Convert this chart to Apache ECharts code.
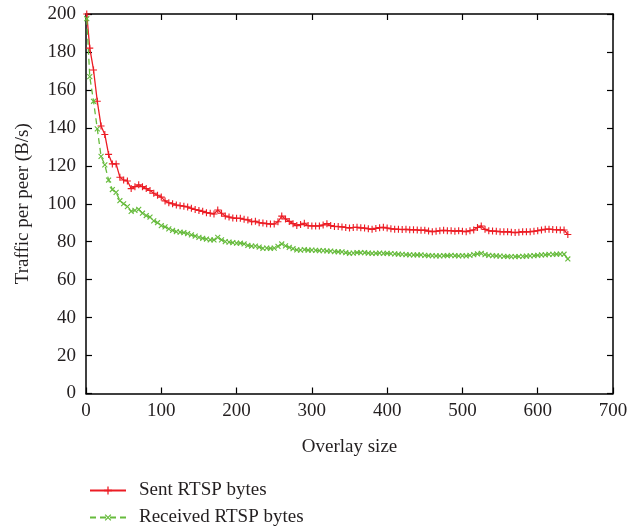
<!DOCTYPE html>
<html>
<head>
<meta charset="utf-8">
<script src="https://cdn.jsdelivr.net/npm/echarts@6/dist/echarts.min.js"></script>
<style>html,body{margin:0;padding:0;background:#fff}#c{width:644px;height:527px}</style>
</head>
<body>
<div id="c"></div>
<script>
const overlaySizes = [1,5,10,15,20,25,30,35,40,45,50,55,60,65,70,75,80,85,90,95,100,105,110,115,120,125,130,135,140,145,150,155,160,165,170,175,180,185,190,195,200,205,210,215,220,225,230,235,240,245,250,255,260,265,270,275,280,285,290,295,300,305,310,315,320,325,330,335,340,345,350,355,360,365,370,375,380,385,390,395,400,405,410,415,420,425,430,435,440,445,450,455,460,465,470,475,480,485,490,495,500,505,510,515,520,525,530,535,540,545,550,555,560,565,570,575,580,585,590,595,600,605,610,615,620,625,630,635,640];
const sentRTSP = [200,182,170.5,154,141,136.5,126,121,121,114,112.5,112,108,109,110,109,108,107,105.5,104.5,103.5,101.5,100.5,100,99.3,99,98.7,98.3,97.6,97,96.5,96,95.3,95,94.6,96.7,95,93.5,93,92.5,92.3,92.3,91.8,91.5,90.5,90.8,90,89.8,89.5,89.3,89.3,90.5,93.5,92,90.7,89.5,88.5,89,89.7,88.5,88.3,88.3,88.3,88.8,89.5,88.5,88,88,87.8,87.5,87.2,87.5,87.6,87.3,87.2,86.8,86.5,87,87.4,87.6,87.2,86.8,86.6,86.5,86.4,86.5,86.3,86.3,86.2,86,86.1,85.6,85.3,85.5,85.8,86,85.8,85.8,85.5,85.8,85.5,85.3,85.8,86.2,87.5,88.3,86.5,85.8,85.6,85.5,85.3,85.2,85.3,85,84.8,85,85.3,85.2,85.3,85.5,85.8,86.2,86.5,86.6,86.4,86.3,86.2,86.2,83.8];
const receivedRTSP = [197.5,167,154,139.5,125,120.5,112.5,107.5,106,101.6,100,98.5,96,96.5,97,95,93.8,93,91,90,88.5,87.8,86.8,86,85.3,85,84.8,84.3,83.6,83,82.3,81.8,81.4,81,80.9,82.3,81,80,79.8,79.5,79.2,79.2,78.8,78,77.7,77.7,77.2,76.5,76.6,76.5,76.6,77.5,78.8,77.8,77,76.3,75.7,75.6,75.8,75.5,75.6,75.4,75.3,75.3,75.1,75,74.8,74.7,74.6,74.2,73.9,74,74.3,74.2,74.2,74,73.8,73.9,74,73.8,73.9,73.7,73.6,73.4,73.3,73.2,73.1,73,73,73,72.8,72.7,72.6,72.5,72.5,72.6,72.6,72.8,72.6,72.5,72.6,72.5,72.8,73.2,73.6,73.8,73.2,72.8,72.6,72.5,72.4,72.3,72.2,72.1,72.1,72.2,72.3,72.4,72.5,72.6,72.8,73,73.1,73.3,73.3,73.4,73.5,73.4,70.9];
const seriesNames = ['Sent RTSP bytes','Received RTSP bytes'];
const xTitle = 'Overlay size';
const yTitle = 'Traffic per peer (B/s)';

const FONT = '"Liberation Serif","DejaVu Serif",serif';
const TXT = '#231f20';
const RED = '#ec1c24';
const GREEN = '#66bb3c';
const plus = 'path://M0,4.2L10,4.2L10,5.8L0,5.8Z M4.2,0L5.8,0L5.8,10L4.2,10Z';

const chart = echarts.init(document.getElementById('c'), null, {renderer:'canvas'});
const pair = (xs, ys) => xs.map((x,i)=>[x, ys[i]]);
const axisLineStyle = {color:'#000', width:1.5};
const tick = {show:true, inside:true, length:6, lineStyle:{color:'#000', width:1.2}};
const legendBase = {
  orient:'horizontal', left:84, itemWidth:36, itemHeight:10,
  textStyle:{color:TXT, fontFamily:FONT, fontSize:19, padding:[0,0,0,8]}
};
chart.setOption({
  animation:false,
  backgroundColor:'#fff',
  grid:{left:86, right:31, top:14, bottom:133.5, containLabel:false},
  xAxis:[
    {type:'value', min:0, max:700, interval:100, position:'bottom',
     axisLine:{show:true, onZero:false, lineStyle:axisLineStyle},
     axisTick:tick, splitLine:{show:false},
     axisLabel:{color:TXT, fontFamily:FONT, fontSize:19, margin:8},
     name:xTitle, nameLocation:'middle', nameGap:44,
     nameTextStyle:{color:TXT, fontFamily:FONT, fontSize:19}},
    {type:'value', min:0, max:700, interval:100, position:'top',
     axisLine:{show:true, onZero:false, lineStyle:axisLineStyle},
     axisTick:tick, splitLine:{show:false}, axisLabel:{show:false}}
  ],
  yAxis:[
    {type:'value', min:0, max:200, interval:20, position:'left',
     axisLine:{show:true, onZero:false, lineStyle:axisLineStyle},
     axisTick:tick, splitLine:{show:false},
     axisLabel:{color:TXT, fontFamily:FONT, fontSize:19, margin:10},
     name:yTitle, nameLocation:'middle', nameGap:53,
     nameTextStyle:{color:TXT, fontFamily:FONT, fontSize:19}},
    {type:'value', min:0, max:200, interval:20, position:'right',
     axisLine:{show:true, onZero:false, lineStyle:axisLineStyle},
     axisTick:tick, splitLine:{show:false}, axisLabel:{show:false}}
  ],
  legend:[
    Object.assign({}, legendBase, {top:476, data:[seriesNames[0]]}),
    Object.assign({}, legendBase, {top:503, data:[seriesNames[1]]})
  ],
  series:[
    {name:seriesNames[0], type:'line', data:pair(overlaySizes, sentRTSP),
     symbol:plus, symbolSize:7, showAllSymbol:true,
     lineStyle:{color:RED, width:1.3}, itemStyle:{color:RED}},
    {name:seriesNames[1], type:'line', data:pair(overlaySizes, receivedRTSP),
     symbol:plus, symbolSize:7, symbolRotate:45, showAllSymbol:true,
     lineStyle:{color:GREEN, width:1.3, type:[6,4]}, itemStyle:{color:GREEN}}
  ]
});
</script>
</body>
</html>
